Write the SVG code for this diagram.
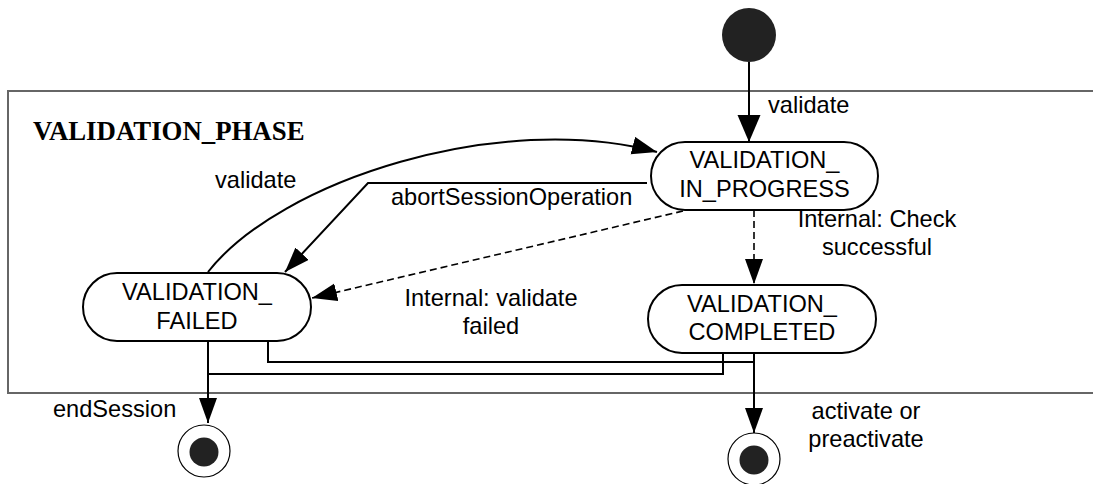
<svg xmlns="http://www.w3.org/2000/svg" width="1093" height="484" viewBox="0 0 1093 484">
<style>
.state{fill:#fff;stroke:#000;stroke-width:2}
.t{font-family:"Liberation Sans",Arial,sans-serif;font-size:23.6px;fill:#000}
.c{text-anchor:middle}
.conn{fill:none;stroke:#000;stroke-width:2}
.dash{stroke-dasharray:7 4;stroke-width:1.6}
</style>
<defs>
<marker id="ah" markerUnits="userSpaceOnUse" markerWidth="26" markerHeight="20" refX="25" refY="9" orient="auto">
<path d="M0,0 L25,9 L0,18 z" fill="#000"/>
</marker>
<marker id="ahb" markerUnits="userSpaceOnUse" markerWidth="28" markerHeight="24" refX="27" refY="11.5" orient="auto">
<path d="M0,0 L27,11.5 L0,23 z" fill="#000"/>
</marker>
</defs>
<rect x="0" y="0" width="1093" height="484" fill="#fff"/>
<g id="VALIDATION_PHASE">
<rect x="8" y="91" width="1100" height="302" fill="none" stroke="#666" stroke-width="2"/>
<text x="33" y="140" font-family="'Liberation Serif','Times New Roman',serif" font-weight="bold" font-size="26.8">VALIDATION_PHASE</text>
</g>
<g id="connectors">
<path class="conn" d="M749,62 V142" marker-end="url(#ahb)"/>
<path class="conn" d="M208,272 C280,180 500,110 657,152" marker-end="url(#ah)"/>
<path class="conn" d="M647,183 H368 L285,272" marker-end="url(#ah)"/>
<path class="conn dash" d="M683,211 L312,298" marker-end="url(#ah)"/>
<path class="conn dash" d="M754,210 V284" marker-end="url(#ah)"/>
<path class="conn" d="M268,337 V362 H754"/>
<path class="conn" d="M723,349 V374 H208"/>
<path class="conn" d="M208,341 V423" marker-end="url(#ah)"/>
<path class="conn" d="M754,353 V433" marker-end="url(#ah)"/>
<text class="t" x="768" y="113">validate</text>
<text class="t" x="215" y="188">validate</text>
<text class="t" x="391" y="205">abortSessionOperation</text>
<text class="t c" x="491" y="306">Internal: validate</text>
<text class="t c" x="491" y="334">failed</text>
<text class="t c" x="877" y="227">Internal: Check</text>
<text class="t c" x="877" y="255">successful</text>
<text class="t" x="53" y="417">endSession</text>
<text class="t c" x="866" y="419">activate or</text>
<text class="t c" x="866" y="447">preactivate</text>
</g>
<g id="initial">
<circle cx="749" cy="35" r="27" fill="#222"/>
</g>
<g id="VALIDATION_IN_PROGRESS">
<rect class="state" x="651" y="142" width="227" height="68" rx="34" ry="34"/>
<text class="t c" x="764.5" y="168">VALIDATION_</text>
<text class="t c" x="764.5" y="197">IN_PROGRESS</text>
</g>
<g id="VALIDATION_FAILED">
<rect class="state" x="83" y="273" width="228" height="68" rx="34" ry="34"/>
<text class="t c" x="197" y="300">VALIDATION_</text>
<text class="t c" x="197" y="329">FAILED</text>
</g>
<g id="VALIDATION_COMPLETED">
<rect class="state" x="648" y="285" width="228" height="68" rx="34" ry="34"/>
<text class="t c" x="762" y="312">VALIDATION_</text>
<text class="t c" x="762" y="340">COMPLETED</text>
</g>
<g id="final_left">
<circle cx="204" cy="451" r="26" fill="#fff" stroke="#000" stroke-width="1.2"/>
<circle cx="204" cy="452" r="14.5" fill="#222"/>
</g>
<g id="final_right">
<circle cx="754" cy="459" r="26" fill="#fff" stroke="#000" stroke-width="1.2"/>
<circle cx="754" cy="460" r="14.5" fill="#222"/>
</g>
</svg>
